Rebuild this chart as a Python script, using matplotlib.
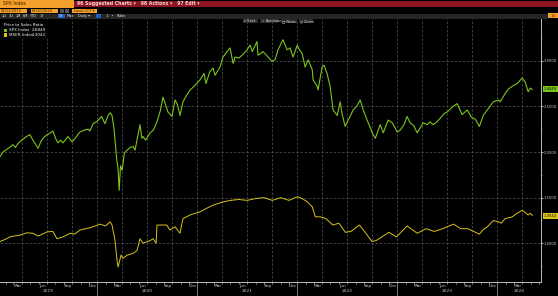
"""Bloomberg-style price to sales ratio chart: SPX Index vs MSER Index."""

import matplotlib

matplotlib.use("Agg")
import matplotlib.dates as mdates
import matplotlib.pyplot as plt
import numpy as np
import pandas as pd
from matplotlib.patches import Rectangle

# --- data -------------------------------------------------------------------
spx_dates = [
    "2019-01-11", "2019-01-22", "2019-02-05", "2019-02-15", "2019-02-27", "2019-03-08",
    "2019-03-20", "2019-04-05", "2019-04-18", "2019-04-30", "2019-05-11", "2019-05-20",
    "2019-05-30", "2019-06-10", "2019-06-20", "2019-07-02", "2019-07-15", "2019-07-23",
    "2019-08-02", "2019-08-10", "2019-08-20", "2019-08-29", "2019-09-16", "2019-10-01",
    "2019-10-15", "2019-10-30", "2019-11-15", "2019-11-28", "2019-12-05", "2019-12-17",
    "2020-01-02", "2020-01-17", "2020-01-29", "2020-02-10", "2020-02-17", "2020-02-24",
    "2020-03-02", "2020-03-06", "2020-03-12", "2020-03-17", "2020-03-21", "2020-03-26",
    "2020-04-01", "2020-04-09", "2020-04-19", "2020-04-30", "2020-05-11", "2020-05-18",
    "2020-05-25", "2020-06-05", "2020-06-12", "2020-06-16", "2020-06-26", "2020-07-12",
    "2020-07-24", "2020-08-06", "2020-08-18", "2020-08-28", "2020-09-03", "2020-09-15",
    "2020-09-30", "2020-10-11", "2020-10-20", "2020-10-29", "2020-11-09", "2020-11-20",
    "2020-12-05", "2020-12-20", "2021-01-10", "2021-01-25", "2021-02-01", "2021-02-15",
    "2021-02-27", "2021-03-06", "2021-03-24", "2021-04-04", "2021-04-19", "2021-04-30",
    "2021-05-11", "2021-05-18", "2021-06-01", "2021-06-13", "2021-07-01", "2021-07-12",
    "2021-07-20", "2021-08-06", "2021-08-10", "2021-08-20", "2021-08-28", "2021-09-16",
    "2021-09-30", "2021-10-11", "2021-10-22", "2021-11-09", "2021-11-24", "2021-12-05",
    "2021-12-16", "2021-12-31", "2022-01-08", "2022-01-18", "2022-01-29", "2022-02-09",
    "2022-02-24", "2022-02-27", "2022-03-14", "2022-03-17", "2022-04-01", "2022-04-08",
    "2022-04-19", "2022-04-30", "2022-05-11", "2022-05-26", "2022-06-06", "2022-06-12",
    "2022-06-24", "2022-07-12", "2022-07-23", "2022-08-05", "2022-08-18", "2022-08-29",
    "2022-09-12", "2022-09-22", "2022-10-01", "2022-10-12", "2022-10-30", "2022-11-10",
    "2022-11-28", "2022-12-13", "2022-12-31", "2023-01-11", "2023-01-25", "2023-02-05",
    "2023-02-16", "2023-03-01", "2023-03-14", "2023-04-05", "2023-04-20", "2023-04-30",
    "2023-05-11", "2023-05-25", "2023-06-06", "2023-06-20", "2023-07-02", "2023-07-23",
    "2023-08-07", "2023-08-25", "2023-09-13", "2023-09-28", "2023-10-12", "2023-10-27",
    "2023-11-10", "2023-11-25", "2023-12-05", "2023-12-17", "2024-01-05", "2024-01-11",
    "2024-01-29", "2024-02-10", "2024-02-24", "2024-03-13", "2024-03-31", "2024-04-11",
    "2024-04-22", "2024-04-30", "2024-05-07",
]
spx_ps = [
    1.95, 2.00, 2.03, 2.05, 2.08, 2.05,
    2.10, 2.14, 2.17, 2.19, 2.13, 2.09,
    2.04, 2.12, 2.16, 2.19, 2.21, 2.23,
    2.15, 2.10, 2.13, 2.10, 2.17, 2.11,
    2.16, 2.22, 2.24, 2.25, 2.23, 2.31,
    2.34, 2.39, 2.31, 2.40, 2.43, 2.40,
    2.26, 2.13, 1.92, 1.82, 1.58, 1.85,
    1.80, 1.99, 2.02, 2.05, 2.06, 2.02,
    2.13, 2.30, 2.15, 2.17, 2.13, 2.21,
    2.24, 2.33, 2.45, 2.60, 2.55, 2.44,
    2.39, 2.57, 2.52, 2.40, 2.55, 2.61,
    2.68, 2.72, 2.79, 2.86, 2.75, 2.88,
    2.92, 2.84, 2.93, 3.04, 3.10, 3.14,
    2.97, 3.04, 3.03, 3.06, 3.12, 3.17,
    3.10, 3.21, 3.06, 3.08, 3.10, 3.04,
    2.99, 3.01, 3.12, 3.23, 3.12, 3.14,
    3.04, 3.17, 3.12, 3.08, 2.93, 3.01,
    2.90, 2.79, 2.72, 2.68, 2.93, 2.95,
    2.86, 2.72, 2.46, 2.40, 2.55, 2.43,
    2.28, 2.39, 2.46, 2.50, 2.57, 2.46,
    2.35, 2.28, 2.21, 2.15, 2.30, 2.21,
    2.35, 2.32, 2.22, 2.24, 2.30, 2.39,
    2.32, 2.29, 2.21, 2.32, 2.30, 2.33,
    2.30, 2.33, 2.37, 2.42, 2.44, 2.50,
    2.53, 2.41, 2.46, 2.38, 2.36, 2.28,
    2.40, 2.46, 2.50, 2.55, 2.57, 2.55,
    2.64, 2.69, 2.72, 2.75, 2.81, 2.77,
    2.66, 2.70, 2.6849,
]

mser_dates = [
    "2019-01-11", "2019-01-28", "2019-02-16", "2019-03-05", "2019-03-25", "2019-04-19",
    "2019-05-11", "2019-05-30", "2019-06-15", "2019-07-02", "2019-07-23", "2019-08-07",
    "2019-08-29", "2019-09-24", "2019-10-10", "2019-10-30", "2019-11-20", "2019-12-06",
    "2019-12-25", "2020-01-11", "2020-01-31", "2020-02-17", "2020-02-24", "2020-03-06",
    "2020-03-13", "2020-03-17", "2020-03-28", "2020-04-04", "2020-04-19", "2020-05-11",
    "2020-05-25", "2020-06-05", "2020-06-16", "2020-07-12", "2020-07-23", "2020-08-03",
    "2020-08-06", "2020-08-17", "2020-09-11", "2020-09-22", "2020-10-11", "2020-10-29",
    "2020-11-09", "2020-12-05", "2021-01-10", "2021-02-01", "2021-03-01", "2021-04-01",
    "2021-05-01", "2021-06-01", "2021-07-01", "2021-08-01", "2021-09-01", "2021-10-01",
    "2021-11-01", "2021-12-01", "2021-12-31", "2022-01-18", "2022-02-05", "2022-02-24",
    "2022-03-07", "2022-03-25", "2022-04-15", "2022-05-10", "2022-06-01", "2022-06-25",
    "2022-07-15", "2022-08-15", "2022-09-05", "2022-09-30", "2022-10-15", "2022-11-10",
    "2022-12-01", "2022-12-28", "2023-01-20", "2023-02-05", "2023-03-14", "2023-04-15",
    "2023-05-15", "2023-06-15", "2023-07-25", "2023-08-20", "2023-09-15", "2023-10-27",
    "2023-11-10", "2023-11-25", "2023-12-17", "2024-01-05", "2024-01-15", "2024-01-29",
    "2024-02-24", "2024-03-13", "2024-03-31", "2024-04-11", "2024-04-22", "2024-04-30",
    "2024-05-07",
]
mser_ps = [
    1.02, 1.04, 1.07, 1.08, 1.09, 1.115,
    1.11, 1.08, 1.10, 1.125, 1.13, 1.05,
    1.07, 1.11, 1.10, 1.145, 1.16, 1.17,
    1.19, 1.21, 1.19, 1.235, 1.20, 1.03,
    0.82, 0.74, 0.87, 0.835, 0.87, 0.89,
    0.92, 1.05, 1.00, 1.03, 1.05, 1.00,
    1.20, 1.20, 1.20, 1.145, 1.18, 1.11,
    1.27, 1.31, 1.345, 1.38, 1.42, 1.45,
    1.47, 1.48, 1.47, 1.49, 1.50, 1.47,
    1.50, 1.47, 1.51, 1.49, 1.456, 1.40,
    1.29, 1.29, 1.27, 1.20, 1.22, 1.12,
    1.13, 1.20, 1.12, 1.02, 1.03, 1.08,
    1.12, 1.07, 1.14, 1.19, 1.11, 1.16,
    1.13, 1.16, 1.21, 1.16, 1.16, 1.10,
    1.15, 1.18, 1.25, 1.235, 1.22, 1.27,
    1.29, 1.33, 1.36, 1.34, 1.31, 1.33,
    1.3042,
]

series_names = ["SPX Index", "MSER Index"]
last_values = ["2.6849", "1.3042"]
y_ticks = [1.0, 1.5, 2.0, 2.5, 3.0]
month_names = {3: "Mar", 6: "Jun", 9: "Sep", 12: "Dec"}

# --- layout -----------------------------------------------------------------
W, H = 558, 296
GREEN = "#7cc41c"
YELLOW = "#d9c21c"
ORANGE = "#f5a02a"
RED = "#8e1420"
GRID = "#4a4a4a"
TXT = "#c8c8c8"

fig = plt.figure(figsize=(W / 100, H / 100), dpi=100, facecolor="black")
ax = fig.add_axes([0, (H - 282) / H, 541 / W, (282 - 19) / H], facecolor="black")


def box(x0, y0, x1, y1, color, z=2):
    fig.add_artist(Rectangle((x0 / W, 1 - y1 / H), (x1 - x0) / W, (y1 - y0) / H,
                             transform=fig.transFigure, facecolor=color,
                             edgecolor="none", zorder=z))


def label(x, y, s, size=3.2, color=TXT, ha="left", weight="normal", z=5):
    fig.text(x / W, 1 - y / H, s, fontsize=size, color=color, ha=ha,
             va="center", fontweight=weight, zorder=z)


x_lo = mdates.date2num(pd.Timestamp("2019-01-11"))
x_hi = mdates.date2num(pd.Timestamp("2024-06-08"))

# gridlines
for yv in y_ticks:
    ax.axhline(yv, color=GRID, lw=0.6, ls=(0, (3, 2)), zorder=1)
for yr in range(2019, 2025):
    for mo in (1, 4, 7, 10):
        d = mdates.date2num(pd.Timestamp(yr, mo, 1))
        if x_lo < d < x_hi:
            ax.axvline(d, color=GRID, lw=0.6, ls=(0, (3, 2)), zorder=1)

ax.plot(pd.to_datetime(spx_dates), spx_ps, color=GREEN, lw=0.8, zorder=3)
ax.plot(pd.to_datetime(mser_dates), mser_ps, color=YELLOW, lw=0.7, zorder=3)

ax.set_xlim(x_lo, x_hi)
ax.set_ylim(0.576, 3.457)

# axes spines
for side in ("top", "left"):
    ax.spines[side].set_visible(False)
ax.spines["right"].set_color("#bdbdbd")
ax.spines["bottom"].set_color("#bdbdbd")
ax.spines["right"].set_linewidth(0.7)
ax.spines["bottom"].set_linewidth(0.7)

# y axis on the right
ax.yaxis.tick_right()
ax.set_yticks(y_ticks)
ax.set_yticklabels([f"{v:.4f}" for v in y_ticks])
ax.set_yticks(np.arange(0.75, 3.3, 0.5), minor=True)
ax.tick_params(axis="y", which="major", length=1.2, width=0.6, color="#dddddd",
               labelsize=2.7, labelcolor=TXT, pad=0.4)
ax.tick_params(axis="y", which="minor", length=1.0, width=0.5, color="#aaaaaa")

# x axis: month labels centred mid-month, monthly minor ticks
tick_pos, tick_lab = [], []
for yr in range(2019, 2025):
    for mo, name in month_names.items():
        d = mdates.date2num(pd.Timestamp(yr, mo, 15))
        if x_lo < d < x_hi:
            tick_pos.append(d)
            tick_lab.append(name)
ax.set_xticks(tick_pos)
ax.set_xticklabels(tick_lab)
ax.tick_params(axis="x", which="major", length=0, labelsize=3.2, labelcolor=TXT, pad=1.2)
ax.xaxis.set_minor_locator(mdates.MonthLocator())
ax.tick_params(axis="x", which="minor", length=1.2, width=0.5, color="#aaaaaa")

# year labels and separators
for yr in range(2019, 2025):
    start = max(mdates.date2num(pd.Timestamp(yr, 1, 1)), x_lo)
    end = min(mdates.date2num(pd.Timestamp(yr + 1, 1, 1)), x_hi)
    ax.text((start + end) / 2, -0.033, str(yr), transform=ax.get_xaxis_transform(),
            fontsize=3.2, color=TXT, ha="center", va="center", clip_on=False)
    if yr > 2019:
        ax.plot([start, start], [0, -0.05], transform=ax.get_xaxis_transform(),
                color="#888888", lw=0.6, clip_on=False)

# --- Bloomberg chrome -------------------------------------------------------
box(0, 0, 74, 7.5, ORANGE)
label(3, 3.8, "SPX Index", size=3.3, color="#3a2000")
box(74, 1, 558, 7, RED)
label(77, 3.9, "96 Suggested Charts \u25be   96 Actions \u25be   97 Edit \u25be",
      size=3.3, color="#f2d6d6", weight="bold")

box(0, 8.7, 27, 12.7, ORANGE)
label(1, 10.7, "01/11/2019", size=2.6, color="#3a2000")
label(28.5, 10.7, "-", size=2.6, color=TXT)
box(31, 8.7, 58, 12.7, ORANGE)
label(32, 10.7, "05/10/2024", size=2.6, color="#3a2000")
box(60, 8.7, 63.5, 12.7, "#555555")
box(65, 8.7, 68.5, 12.7, "#555555")
box(72, 8.7, 97, 12.7, ORANGE)
label(73.5, 10.7, "Local CCY \u25be", size=2.6, color="#3a2000")

box(0, 14, 548, 18.7, "#262626")
periods = [("1D", 4), ("3D", 11), ("1M", 18), ("6M", 25), ("YTD", 33), ("1Y", 42),
           ("5Y", 61), ("Max", 70), ("Daily \u25be", 84)]
box(57.5, 14.3, 65, 18.4, "#1d5fc4")
for s, xp in periods:
    label(xp, 16.4, s, size=2.6, color="#e6e6e6", ha="center")
box(96, 14.3, 101, 18.4, "#1d5fc4")
label(106, 16.4, "\u2195  \u2022", size=2.6, color="#e6e6e6")
label(116, 16.4, "Table", size=2.6, color="#e6e6e6")
box(548, 13.3, 558, 18.3, ORANGE)
label(553, 15.8, "1.0", size=2.4, color="#3a2000", ha="center")

# chart buttons
for x0, x1, s in [(243, 258, "\u25be Track"), (260, 278, "\u2713 Annotate"),
                  (281, 297, "\u25a1 News"), (299, 313, "\u25cb Zoom")]:
    box(x0, 19.3, x1, 22.7, "#2c2c2c")
    label(x0 + 1.5, 21, s, size=2.4, color="#dddddd")

# legend
box(1, 20.7, 48, 39.3, "#050505")
label(4, 25, "Price to Sales Ratio", size=3.0, color="#f0f0f0")
for i, (name, val, col) in enumerate(zip(series_names, last_values, (GREEN, YELLOW))):
    yy = 30.2 + 4.8 * i
    box(4, yy - 1.6, 7.3, yy + 1.6, col, z=4)
    label(9, yy, name, size=3.0, color="#f0f0f0")
    label(46, yy, val, size=3.0, color="#f0f0f0", ha="right")

# last-value tags on the right axis
for val, col in ((spx_ps[-1], GREEN), (mser_ps[-1], YELLOW)):
    ypix = 19 + (3.457 - val) / (3.457 - 0.576) * (282 - 19)
    box(543, ypix - 3, 558, ypix + 3, col)
    label(544, ypix, f"{val:.4f}", size=2.7, color="#111111")

fig.savefig("out.png", dpi=100, facecolor="black")
